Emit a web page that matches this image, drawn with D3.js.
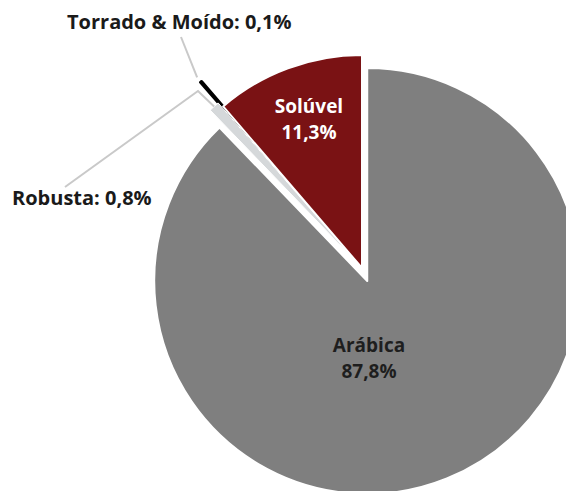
<!DOCTYPE html>
<html>
<head>
<meta charset="utf-8">
<script src="https://cdn.jsdelivr.net/npm/d3@7"></script>
<style>
  body { margin: 0; background: #fff; }
  svg { display: block; font-family: "Open Sans", sans-serif; font-weight: 700; }
</style>
</head>
<body>
<div id="chart"></div>
<script>
const width = 566,
      height = 491;

// data
const categories = ["Arábica", "Robusta", "Torrado & Moído", "Solúvel"];
const shares = [87.8, 0.8, 0.1, 11.3];
const shareLabels = ["87,8%", "0,8%", "0,1%", "11,3%"];

const colors = ["#7f7f7f", "#d5d8da", "#000000", "#7a1214"];

const cx = 362, cy = 268, radius = 213;
// how far each slice is pulled out of the pie
const explode = [14, 6, 33, 0];
// the black sliver goes under its neighbours
const drawOrder = [0, 2, 1, 3];

const svg = d3.select("#chart")
  .append("svg")
    .attr("width", width)
    .attr("height", height);

const pie = d3.pie().sort(null).value(d => d);
const arcs = pie(shares);

const arc = d3.arc()
    .innerRadius(0)
    .outerRadius(radius);

const mid = d => (d.startAngle + d.endAngle) / 2;
const shift = (d, i) => [Math.sin(mid(d)) * explode[i], -Math.cos(mid(d)) * explode[i]];

const g = svg.append("g")
    .attr("transform", `translate(${cx},${cy})`);

g.selectAll("path")
  .data(drawOrder)
  .enter()
  .append("path")
    .attr("transform", i => `translate(${shift(arcs[i], i)})`)
    .attr("d", i => arc(arcs[i]))
    .attr("fill", i => colors[i])
    .attr("stroke", i => i === 2 ? "#000" : "#fff")
    .attr("stroke-width", i => i === 2 ? 3 : (i === 1 ? 1 : 2))
    .attr("stroke-linejoin", "round");

// point at the outer tip of a slice
const tip = (i, extra) => {
  const d = arcs[i], r = radius + explode[i] + extra;
  return [cx + Math.sin(mid(d)) * r, cy - Math.cos(mid(d)) * r];
};

// leader lines for the thin slices
const leaders = [
  { i: 1, pts: [tip(1, 0), [198, 91], [65, 187]] },
  { i: 2, pts: [tip(2, 6), [181, 37]] }
];

svg.append("g")
  .selectAll("path")
  .data(leaders)
  .enter()
  .append("path")
    .attr("d", d => d3.line()(d.pts))
    .attr("fill", "none")
    .attr("stroke", "#c9c9c9")
    .attr("stroke-width", 2);

// outside labels
svg.append("text")
    .attr("x", 12)
    .attr("y", 205)
    .attr("fill", "#1a1a1a")
    .style("font-size", "20px")
    .text(`${categories[1]}: ${shareLabels[1]}`);

svg.append("text")
    .attr("x", 67)
    .attr("y", 29)
    .attr("fill", "#1a1a1a")
    .style("font-size", "20px")
    .text(`${categories[2]}: ${shareLabels[2]}`);

// inside labels
const inside = [
  { i: 3, x: 309, y: 113, fill: "#fff" },
  { i: 0, x: 369, y: 352, fill: "#1e1e1e" }
];

const lbl = svg.append("g")
  .selectAll("text")
  .data(inside)
  .enter()
  .append("text")
    .attr("text-anchor", "middle")
    .attr("fill", d => d.fill)
    .style("font-size", "19px");

lbl.append("tspan")
    .attr("x", d => d.x)
    .attr("y", d => d.y)
    .text(d => categories[d.i]);

lbl.append("tspan")
    .attr("x", d => d.x)
    .attr("y", d => d.y + 26)
    .text(d => shareLabels[d.i]);
</script>
</body>
</html>
